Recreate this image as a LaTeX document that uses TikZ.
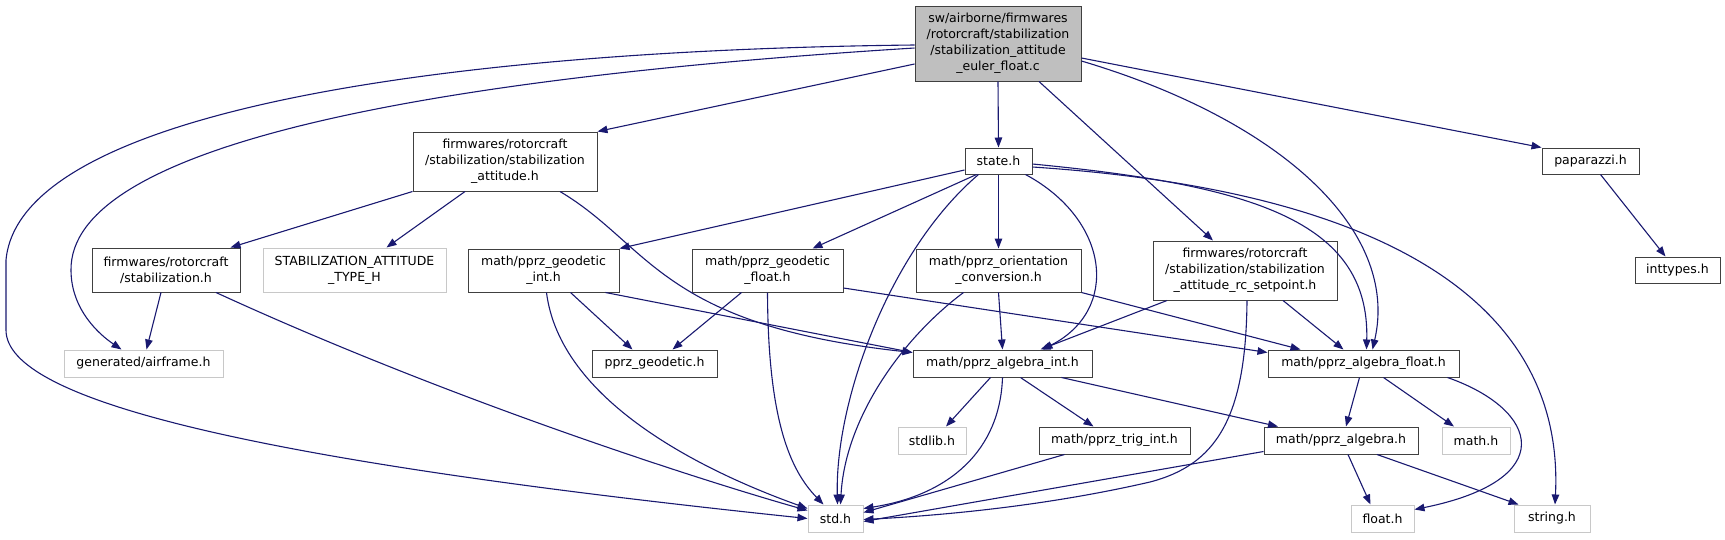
\documentclass[tikz,border=0pt]{standalone}
\usepackage{fontspec}
\setmainfont{DejaVu Sans}
\usetikzlibrary{arrows.meta}
\definecolor{edgeblue}{HTML}{191970}
\definecolor{rootgray}{HTML}{BFBFBF}
\definecolor{lightborder}{HTML}{C8C8C8}
\definecolor{darkborder}{HTML}{404040}
\tikzset{
  box/.style={draw=darkborder, line width=1pt, inner sep=0pt, align=center,
    font=\fontsize{12.5}{16}\selectfont, text=black},
  gbox/.style={box, draw=lightborder},
  edge/.style={draw=edgeblue, line width=1.1pt, -{Triangle[length=10pt,width=7.5pt]}},
}
\begin{document}
\begin{tikzpicture}[x=1pt,y=-1pt]
\useasboundingbox (0,0) rectangle (1725,539);
% nodes
\node[box, fill=rootgray, minimum width=166pt, minimum height=75pt] (root) at (998,43.5)
  {sw/airborne/firmwares\\/rotorcraft/stabilization\\/stabilization\_attitude\\\_euler\_float.c};
\node[box, minimum width=67pt, minimum height=26pt] (state) at (998.5,161) {state.h};
\node[box, minimum width=97pt, minimum height=26pt] (pap) at (1590.5,161) {paparazzi.h};
\node[box, minimum width=85pt, minimum height=26pt] (intt) at (1677.5,270) {inttypes.h};
\node[box, minimum width=184pt, minimum height=59pt] (satt) at (505,161.5)
  {firmwares/rotorcraft\\/stabilization/stabilization\\\_attitude.h};
\node[box, minimum width=148pt, minimum height=44pt] (stab) at (166,270)
  {firmwares/rotorcraft\\/stabilization.h};
\node[gbox, minimum width=183pt, minimum height=44pt] (stype) at (354.5,270)
  {STABILIZATION\_ATTITUDE\\\_TYPE\_H};
\node[box, minimum width=151pt, minimum height=43pt] (gint) at (543.5,270.5)
  {math/pprz\_geodetic\\\_int.h};
\node[box, minimum width=151pt, minimum height=43pt] (gfloat) at (767.5,270.5)
  {math/pprz\_geodetic\\\_float.h};
\node[box, minimum width=165pt, minimum height=43pt] (orient) at (998.5,270.5)
  {math/pprz\_orientation\\\_conversion.h};
\node[box, minimum width=184pt, minimum height=59pt] (rc) at (1245,270.5)
  {firmwares/rotorcraft\\/stabilization/stabilization\\\_attitude\_rc\_setpoint.h};
\node[gbox, minimum width=159pt, minimum height=27pt] (airf) at (143.5,363.5) {generated/airframe.h};
\node[box, minimum width=125pt, minimum height=27pt] (geod) at (654.5,363.5) {pprz\_geodetic.h};
\node[box, minimum width=179pt, minimum height=27pt] (aint) at (1002.5,363.5) {math/pprz\_algebra\_int.h};
\node[box, minimum width=191pt, minimum height=27pt] (afloat) at (1363.5,363.5) {math/pprz\_algebra\_float.h};
\node[gbox, minimum width=68pt, minimum height=27pt] (stdlib) at (932,440.5) {stdlib.h};
\node[box, minimum width=151pt, minimum height=27pt] (trig) at (1114.5,440.5) {math/pprz\_trig\_int.h};
\node[box, minimum width=154pt, minimum height=27pt] (alg) at (1341,440.5) {math/pprz\_algebra.h};
\node[gbox, minimum width=68pt, minimum height=27pt] (mathh) at (1476,440.5) {math.h};
\node[gbox, minimum width=55pt, minimum height=27pt] (std) at (835.5,518.5) {std.h};
\node[gbox, minimum width=63pt, minimum height=27pt] (floath) at (1382.5,518.5) {float.h};
\node[gbox, minimum width=76pt, minimum height=27pt] (strh) at (1552,518.5) {string.h};
% edges from root
\draw[edge] ([yshift=-1.5pt]root.west) .. controls (450,50) and (20,110) .. (6,260)
  -- (6,330) .. controls (6,400) and (250,460) .. (std.west);
\draw[edge] ([yshift=-4.5pt]root.west) .. controls (400,80) and (70,150) .. (71,270)
  .. controls (71,310) and (100,335) .. ([xshift=-22pt]airf.north);
\draw[edge] ([yshift=-20.5pt]root.west) -- (satt.north east);
\draw[edge] (root.south) -- (state.north);
\draw[edge] ([xshift=41pt]root.south) -- ([xshift=-32pt]rc.north);
\draw[edge] ([yshift=-17.5pt]root.east) .. controls (1280,120) and (1400,230) .. ([xshift=9pt]afloat.north);
\draw[edge] ([yshift=-14.5pt]root.east) -- (pap.north west);
% state.h
\draw[edge] ([yshift=-9pt]state.west) -- (gint.north east);
\draw[edge] ([xshift=-22pt]state.south) -- ([xshift=45pt]gfloat.north);
\draw[edge] (state.south) -- (orient.north);
\draw[edge] ([xshift=-20pt]state.south) .. controls (890,250) and (835,400) .. ([xshift=2pt]std.north);
\draw[edge] ([xshift=27pt]state.south) .. controls (1110,220) and (1120,310) .. ([xshift=40pt]aint.north);
\draw[edge] ([yshift=-3pt]state.east) .. controls (1250,185) and (1370,220) .. ([xshift=3pt]afloat.north);
\draw[edge] ([yshift=-6pt]state.east) .. controls (1380,190) and (1565,300) .. ([xshift=3pt]strh.north);
% stabilization_attitude.h
\draw[edge] (satt.south west) -- ([xshift=-10pt]stab.north east);
\draw[edge] ([xshift=-40pt]satt.south) -- ([xshift=32pt]stype.north);
\draw[edge] ([xshift=55pt]satt.south) .. controls (650,245) and (660,325) .. ([yshift=-3pt]aint.north west);
% stabilization.h
\draw[edge] ([xshift=-5pt]stab.south) -- ([xshift=3pt]airf.north);
\draw[edge] ([xshift=50pt]stab.south) .. controls (450,400) and (700,480) .. ([yshift=-6pt]std.north west);
% geodetic int
\draw[edge] ([xshift=27pt]gint.south) -- ([xshift=-22pt]geod.north);
\draw[edge] ([xshift=3pt]gint.south) .. controls (560,400) and (700,470) .. ([yshift=-4pt]std.north west);
\draw[edge] ([xshift=62pt]gint.south) -- ([yshift=-3pt]aint.north west);
% geodetic float
\draw[edge] ([xshift=-26pt]gfloat.south) -- ([xshift=18pt]geod.north);
\draw[edge] (gfloat.south) .. controls (768,420) and (790,470) .. ([xshift=-12pt]std.north);
\draw[edge] ([yshift=-17.5pt]gfloat.east) -- ([yshift=-3pt]afloat.north west);
% orientation
\draw[edge] (orient.south) -- (aint.north);
\draw[edge] ([xshift=-35pt]orient.south) .. controls (900,340) and (845,420) .. ([xshift=5pt]std.north);
\draw[edge] (orient.south east) -- ([xshift=-63pt]afloat.north);
% rc setpoint
\draw[edge] ([xshift=-78pt]rc.south) -- ([xshift=38pt]aint.north);
\draw[edge] ([xshift=38pt]rc.south) -- ([xshift=-20pt]afloat.north);
\draw[edge] ([xshift=2pt]rc.south) .. controls (1246,420) and (1215,465) .. (1150,482)
  .. controls (1050,505) and (950,515) .. ([yshift=-1pt]std.east);
% algebra int
\draw[edge] ([xshift=-12pt]aint.south) -- ([xshift=14pt]stdlib.north);
\draw[edge] (aint.south) .. controls (1000,450) and (950,495) .. ([yshift=-4pt]std.north east);
\draw[edge] ([xshift=18pt]aint.south) -- ([xshift=-21pt]trig.north);
\draw[edge] ([xshift=59pt]aint.south) -- ([xshift=-63pt]alg.north);
% algebra float
\draw[edge] ([xshift=-4pt]afloat.south) -- ([xshift=5pt]alg.north);
\draw[edge] ([xshift=20pt]afloat.south) -- ([xshift=-22pt]mathh.north);
\draw[edge] ([xshift=-12pt]afloat.south east) .. controls (1540,410) and (1560,480) .. ([yshift=-5pt]floath.north east);
% trig, algebra
\draw[edge] ([xshift=-50pt]trig.south) -- ([yshift=-8pt]std.north east);
\draw[edge] ([yshift=3pt]alg.south west) -- ([yshift=-3pt]std.east);
\draw[edge] ([xshift=7pt]alg.south) -- ([xshift=-12pt]floath.north);
\draw[edge] ([xshift=36pt]alg.south) -- ([xshift=5pt]strh.north west);
% paparazzi
\draw[edge] ([xshift=10pt]pap.south) -- ([xshift=-12pt]intt.north);
\end{tikzpicture}
\end{document}
